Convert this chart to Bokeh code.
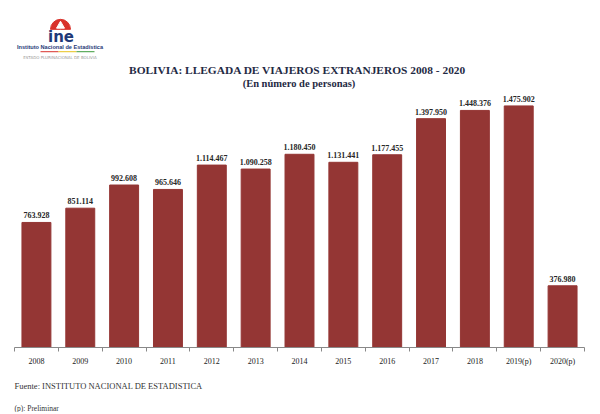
from bokeh.plotting import figure
from bokeh.models import Range1d, FixedTicker, Label, ColumnDataSource, Title
from bokeh.core.properties import value
from bokeh.embed import file_html
from bokeh.resources import INLINE

years = ["2008", "2009", "2010", "2011", "2012", "2013", "2014", "2015",
         "2016", "2017", "2018", "2019(p)", "2020(p)"]
arrivals = [763928, 851114, 992608, 965646, 1114467, 1090258, 1180450,
            1131441, 1177455, 1397950, 1448376, 1475902, 376980]

title_text = "BOLIVIA: LLEGADA DE VIAJEROS EXTRANJEROS  2008 - 2020"
subtitle_text = "(En número de personas)"
source_text = "Fuente: INSTITUTO NACIONAL DE ESTADISTICA"
note_text = "(p): Preliminar"

BAR = "#943634"
SERIF = "Liberation Serif"
W, H = 592, 412
FRAME_L, FRAME_R, FRAME_B = 14, 8, 63
frame_w = W - FRAME_L - FRAME_R
frame_h = H - FRAME_B
n = len(years)
Y_END = 2120000
OFF = 0  # observed page offset

p = figure(width=W, height=H, output_backend="svg", toolbar_location=None,
           x_range=Range1d(-0.5, n - 0.5), y_range=Range1d(0, Y_END),
           y_axis_location=None, min_border_left=FRAME_L, min_border_right=FRAME_R,
           min_border_top=0, min_border_bottom=FRAME_B, outline_line_color=None,
           background_fill_color="white", border_fill_color="white")
p.grid.visible = False

def dx(px):
    return -0.5 + (px - OFF - FRAME_L) / frame_w * n

def dy(py):
    return (frame_h - (py - OFF)) / frame_h * Y_END

xs = list(range(n))
labels = [f"{v:,}".replace(",", ".") for v in arrivals]
src = ColumnDataSource(dict(x=xs, top=arrivals, lab=labels))
p.vbar(x="x", top="top", width=0.66, bottom=0, source=src,
       fill_color=BAR, line_color=BAR)
p.text(x="x", y="top", text="lab", source=src, text_align="center",
       text_baseline="bottom", y_offset=-4, text_font=value(SERIF),
       text_font_style="bold", text_font_size="8px", text_color="#262626")

ax = p.xaxis[0]
ax.ticker = FixedTicker(ticks=xs, minor_ticks=[i - 0.5 for i in range(n + 1)])
ax.major_label_overrides = {i: y for i, y in enumerate(years)}
ax.major_tick_out = 0
ax.major_tick_in = 0
ax.minor_tick_out = 4
ax.minor_tick_in = 0
ax.minor_tick_line_color = "#888888"
ax.axis_line_color = "#888888"
ax.major_label_standoff = 5
ax.major_label_text_font = SERIF
ax.major_label_text_font_size = "8px"
ax.major_label_text_color = "#222222"

# footnotes as titles below the axis
p.add_layout(Title(text=source_text, align="left", standoff=21, text_font=SERIF,
                   text_font_style="normal", text_font_size="8.5px",
                   text_color="#333333"), "below")
p.add_layout(Title(text=note_text, align="left", standoff=0, text_font=SERIF,
                   text_font_style="normal", text_font_size="7.5px",
                   text_color="#333333"), "below")

# titles
p.add_layout(Label(x=dx(298.5), y=dy(70), text=title_text, text_align="center",
                   text_baseline="middle", text_font=SERIF, text_font_style="bold",
                   text_font_size="11.4px", text_color="#1F2A44"))
p.add_layout(Label(x=dx(298.5), y=dy(83), text=subtitle_text, text_align="center",
                   text_baseline="middle", text_font=SERIF, text_font_style="bold",
                   text_font_size="10.5px", text_color="#1F2A44"))

# logo
p.wedge(x=[dx(60)], y=[dy(29)], radius=10, radius_units="screen",
        start_angle=0, end_angle=3.1416, fill_color="#D9322B", line_color="#D9322B")
p.scatter(x=[dx(60)], y=[dy(25.5)], marker="triangle", size=8,
          fill_color="white", line_color="white")
p.add_layout(Label(x=dx(60.5), y=dy(37), text="ine", text_align="center",
                   text_baseline="middle", text_font="DejaVu Sans", text_font_style="bold",
                   text_font_size="15px", text_color="#1F3A78"))
p.add_layout(Label(x=dx(59.5), y=dy(47), text="Instituto Nacional de Estadística",
                   text_align="center", text_baseline="middle", text_font="Liberation Sans",
                   text_font_style="bold", text_font_size="5.6px", text_color="#1F3A78"))
p.segment(x0=[dx(40), dx(58), dx(76)], y0=[dy(51.5)] * 3,
          x1=[dx(58), dx(76), dx(94)], y1=[dy(51.5)] * 3,
          line_color=["#D9322B", "#E8C21C", "#3A9A3A"], line_width=1)
p.add_layout(Label(x=dx(59.5), y=dy(57), text="ESTADO PLURINACIONAL DE BOLIVIA",
                   text_align="center", text_baseline="middle", text_font="DejaVu Sans",
                   text_font_size="4px", text_color="#9A9A9A"))

open("out.html", "w").write(file_html(p, INLINE))
